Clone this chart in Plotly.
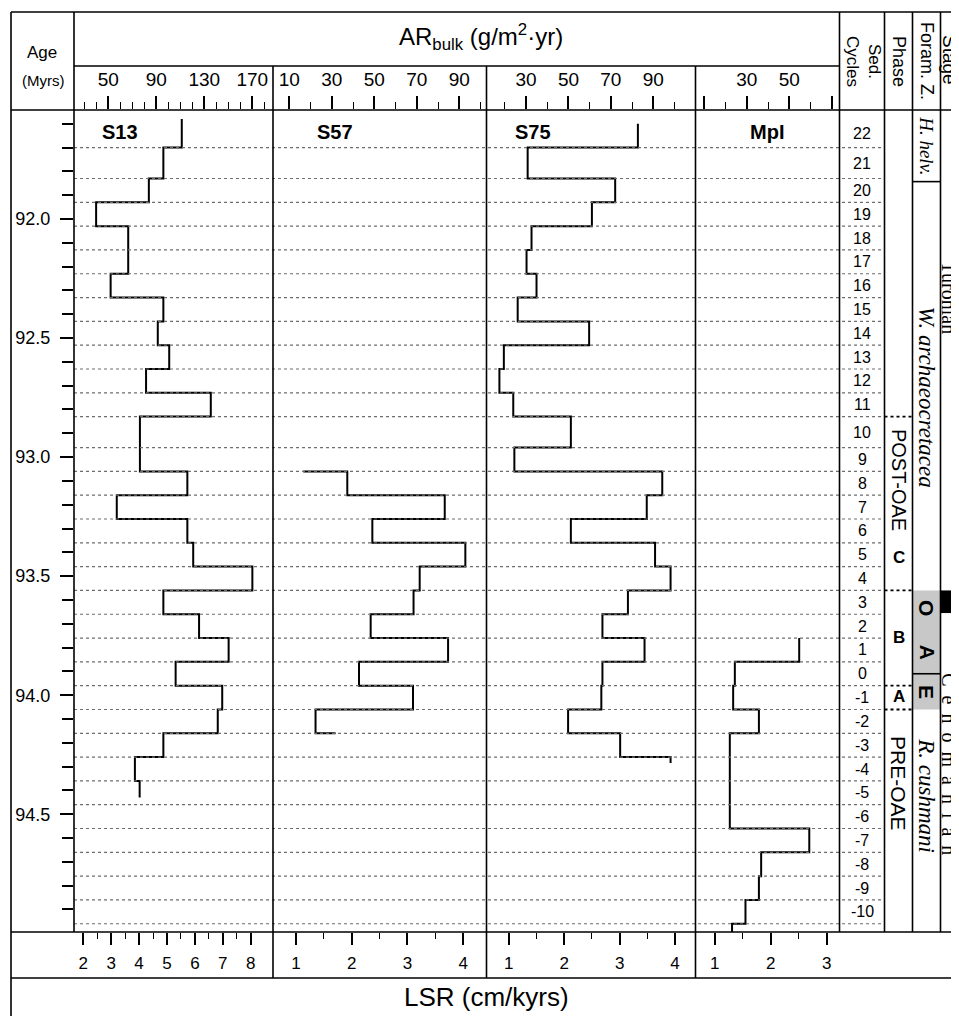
import plotly.graph_objects as go

# page is 959x1016; the html body adds an 8px margin, so the figure is 951x1008
OFF = 8
FW, FH = 959 - OFF, 1016 - OFF

# ---------------- data ----------------
cycle_labels = ["22", "21", "20", "19", "18", "17", "16", "15", "14", "13", "12", "11",
                "10", "9", "8", "7", "6", "5", "4", "3", "2", "1", "0", "-1", "-2", "-3",
                "-4", "-5", "-6", "-7", "-8", "-9", "-10", ""]
# cycle boundaries (age, Myrs): top of cycle 22 ... base of lowest cell
cycle_bounds = [91.58, 91.70, 91.83, 91.93, 92.03, 92.13, 92.23, 92.33, 92.43, 92.53,
                92.63, 92.73, 92.83, 92.96, 93.06, 93.16, 93.26, 93.36, 93.46, 93.56,
                93.66, 93.76, 93.86, 93.96, 94.06, 94.16, 94.26, 94.36, 94.46, 94.56,
                94.66, 94.76, 94.86, 94.96, 95.06]

# LSR (cm/kyrs) per cycle (None = no data)
s13_lsr = [5.53, 4.87, 4.35, 2.46, 3.61, 3.61, 2.98, 4.87, 4.67, 5.08, 4.25, 6.57,
           4.03, 4.03, 5.73, 3.20, 5.73, 5.94, 8.06, 4.87, 6.15, 7.21, 5.31, 6.98,
           6.82, 4.87, 3.85, 4.02, None, None, None, None, None, None]
s57_lsr = [None] * 13 + [1.13, 1.92, 3.67, 2.37, 4.04, 3.22, 3.11, 2.34, 3.73, 2.13,
                         3.10, 1.35, 1.71] + [None] * 8
s75_lsr = [3.33, 1.34, 2.92, 2.50, 1.41, 1.32, 1.50, 1.16, 2.45, 0.91, 0.83, 1.08,
           2.12, 1.10, 3.77, 3.49, 2.12, 3.64, 3.92, 3.15, 2.69, 3.45, 2.69, 2.67,
           2.07, 3.01, 3.92] + [None] * 7
mpi_lsr = [None] * 21 + [2.51, 1.36, 1.33, 1.79, 1.27, 1.27, 1.27, 1.27, 2.69, 1.83,
                         1.79, 1.55, 1.31]

# record start / end ages
s13_span = (91.58, 94.43)
s57_span = (93.06, 94.16)
s75_span = (91.60, 94.285)
mpi_span = (93.76, 95.06)

panel_names = ["S13", "S57", "S75", "MpI"]

# axis tick values
age_ticks = [92.0, 92.5, 93.0, 93.5, 94.0, 94.5]
age_minor = [round(91.6 + 0.1 * i, 1) for i in range(34)]
lsr_ticks = [[2, 3, 4, 5, 6, 7, 8], [1, 2, 3, 4], [1, 2, 3, 4], [1, 2, 3]]
lsr_minor = [[2.5, 3.5, 4.5, 5.5, 6.5, 7.5], [1.5, 2.5, 3.5], [1.5, 2.5, 3.5], [1.5, 2.5]]
ar_ticks = [[50, 90, 130, 170], [10, 30, 50, 70, 90], [30, 50, 70, 90], [30, 50]]
ar_unlabelled = [[], [], [], [10, 70]]
ar_minor = [[30, 40, 60, 70, 80, 100, 110, 120, 140, 150, 160, 180],
            [20, 40, 60, 80, 100], [20, 40, 60, 80, 100], [20, 40, 60]]

# ---------------- layout geometry ----------------
def px(x):
    return (x - OFF) / FW


def py(y):
    return 1 - (y - OFF) / FH


panel_px = [(74, 273), (273, 486.5), (486.5, 695.5), (695.5, 839.5)]
lsr_ranges = [[1.667, 8.8], [0.586, 4.42], [0.597, 4.37], [0.657, 3.23]]
ar_ranges = [[21.4, 187.25], [2.33, 102.8], [11.37, 109.9], [5.96, 73.57]]
title_px = [120, 335, 533, 767]
y_range = [94.9946, 91.5422]
plot_top, plot_bot = 110, 932

FONT = "Liberation Sans, Arial, sans-serif"
SERIF = "Liberation Serif, Times New Roman, serif"


def step_path(values, bounds, span):
    xs, ys = [], []
    start, end = span
    for i, v in enumerate(values):
        if v is None:
            continue
        t = max(bounds[i], start)
        b = min(bounds[i + 1], end)
        if t > b:
            continue
        xs += [v, v]
        ys += [t, b]
    return xs, ys


fig = go.Figure()

series = [(s13_lsr, s13_span), (s57_lsr, s57_span), (s75_lsr, s75_span), (mpi_lsr, mpi_span)]
for k, (vals, span) in enumerate(series):
    xs, ys = step_path(vals, cycle_bounds, span)
    xa = "x" if k == 0 else "x%d" % (2 * k + 1)
    fig.add_trace(go.Scatter(x=xs, y=ys, mode="lines", xaxis=xa, yaxis="y",
                             line=dict(color="black", width=2), hoverinfo="skip"))
    # empty trace so that the top (AR) axis is drawn
    fig.add_trace(go.Scatter(x=[None], y=[None], mode="lines", xaxis="x%d" % (2 * k + 2),
                             yaxis="y", hoverinfo="skip"))
fig.add_trace(go.Scatter(x=[None], y=[None], mode="lines", xaxis="x9", yaxis="y",
                         hoverinfo="skip"))

layout = dict(width=FW, height=FH, margin=dict(l=0, r=0, t=0, b=0),
              paper_bgcolor="white", plot_bgcolor="rgba(0,0,0,0)", showlegend=False,
              font=dict(family=FONT, color="black"))

ydom = [py(plot_bot), py(plot_top)]
layout["yaxis"] = dict(domain=ydom, range=y_range, anchor="x", side="left",
                       showgrid=False, zeroline=False, showline=False,
                       tickmode="array", tickvals=age_ticks,
                       ticktext=["%.1f" % v for v in age_ticks],
                       ticks="outside", ticklen=13, tickwidth=1.5, tickcolor="black",
                       tickfont=dict(size=18, family=FONT, color="black"),
                       ticklabelstandoff=6,
                       minor=dict(tickmode="array", tickvals=age_minor, ticks="outside",
                                  ticklen=11, tickwidth=1.5, tickcolor="black", showgrid=False))

for k in range(4):
    x0, x1 = panel_px[k]
    dom = [px(x0), px(x1)]
    bottom_name = "xaxis" if k == 0 else "xaxis%d" % (2 * k + 1)
    top_name = "xaxis%d" % (2 * k + 2)
    bottom_id = "x" if k == 0 else "x%d" % (2 * k + 1)
    layout[bottom_name] = dict(domain=dom, range=lsr_ranges[k], anchor="y", side="bottom",
                               showgrid=False, zeroline=False, showline=False,
                               tickmode="array", tickvals=lsr_ticks[k],
                               ticks="outside", ticklen=12, tickwidth=1.5, tickcolor="black",
                               tickfont=dict(size=17, family=FONT, color="black"),
                               ticklabelstandoff=4,
                               minor=dict(tickmode="array", tickvals=lsr_minor[k],
                                          ticks="outside", ticklen=6, tickwidth=1.2,
                                          tickcolor="black", showgrid=False))
    layout[top_name] = dict(domain=dom, range=ar_ranges[k], anchor="y", side="top",
                            overlaying=bottom_id,
                            showgrid=False, zeroline=False, showline=False,
                            tickmode="array", tickvals=ar_ticks[k],
                            ticks="outside", ticklen=13, tickwidth=1.5, tickcolor="black",
                            tickfont=dict(size=19, family=FONT, color="black"),
                            ticklabelstandoff=2,
                            minor=dict(tickmode="array", tickvals=ar_minor[k],
                                       ticks="outside", ticklen=7, tickwidth=1.2,
                                       tickcolor="black", showgrid=False))
# unlabelled long ticks of the MpI top axis
layout["xaxis9"] = dict(domain=[px(695.5), px(839.5)], range=ar_ranges[3], anchor="y",
                        side="top", overlaying="x7", showgrid=False, zeroline=False,
                        showline=False, tickmode="array", tickvals=ar_unlabelled[3],
                        showticklabels=False, ticks="outside", ticklen=13, tickwidth=1.5,
                        tickcolor="black")

shapes = []


def hline(y, xa, xb, width=1.6, color="black", dash=None, yref="paper"):
    d = dict(type="line", xref="paper", yref=yref, x0=px(xa), x1=px(xb),
             y0=(py(y) if yref == "paper" else y), y1=(py(y) if yref == "paper" else y),
             line=dict(color=color, width=width))
    if dash:
        d["line"]["dash"] = dash
    shapes.append(d)


def vline(x, ya, yb, width=1.6):
    shapes.append(dict(type="line", xref="paper", yref="paper", x0=px(x), x1=px(x),
                       y0=py(ya), y1=py(yb), line=dict(color="black", width=width)))


# OAE grey box & black bar (data y)
shapes.append(dict(type="rect", xref="paper", yref="y", x0=px(912.5), x1=px(940.5),
                   y0=93.56, y1=94.06, fillcolor="#c8c8c8", line=dict(width=0), layer="below"))
shapes.append(dict(type="rect", xref="paper", yref="y", x0=px(940.5), x1=px(965),
                   y0=93.56, y1=93.655, fillcolor="black", line=dict(width=0)))

# dotted cycle boundaries
for b in cycle_bounds[1:-1]:
    hline(b, 74, 884.5, width=1.2, color="#6e6e6e", dash="dot", yref="y")
# phase boundaries
for b in [92.83, 93.56, 93.96, 94.06]:
    hline(b, 884.5, 912.5, width=1.8, color="black", dash="dot", yref="y")
# foram zone boundaries
hline(91.843, 912.5, 940.5, yref="y")
hline(93.91, 912.5, 940.5, yref="y")

# frame
for y, xa, xb in [(12, 11, 965), (66, 74, 839.5), (110, 11, 965), (932, 11, 965), (978, 11, 965)]:
    hline(y, xa, xb)
vline(11, 12, 1025)
vline(74, 12, 932)
for x in [273, 486.5, 695.5]:
    vline(x, 66, 978)
for x in [839.5, 884.5, 912.5, 940.5]:
    vline(x, 12, 932)

layout["shapes"] = shapes

ann = []


def text(x, y, s, size, yref="paper", angle=0, family=FONT, **kw):
    ann.append(dict(x=px(x), y=(py(y) if yref == "paper" else y), xref="paper", yref=yref,
                    text=s, showarrow=False, textangle=angle, xanchor="center",
                    yanchor="middle", font=dict(size=size, family=family, color="black"), **kw))


text(42, 53, "Age", 17)
text(43, 81, "(Myrs)", 15)
text(481, 37, "AR<sub>bulk</sub> (g/m<sup>2</sup>·yr)", 24)
text(486, 997, "LSR (cm/kyrs)", 26)
text(864, 61, "Sed.<br>Cycles", 17, angle=90)
text(899, 61, "Phase", 18, angle=90)
text(927, 61, "Foram. Z.", 18, angle=90)
text(950, 60, "Stage", 19, angle=90)

for k, name in enumerate(panel_names):
    text(title_px[k], 132, "<b>%s</b>" % name, 20)

for i, lab in enumerate(cycle_labels):
    if lab:
        text(862, (cycle_bounds[i] + cycle_bounds[i + 1]) / 2, lab, 16, yref="y")

# phase column
text(899, 93.096, "POST-OAE", 20, yref="y", angle=90)
text(899, 93.42, "<b>C</b>", 17, yref="y")
text(899, 93.756, "<b>B</b>", 17, yref="y")
text(899, 94.005, "<b>A</b>", 17, yref="y")
text(899, 94.369, "PRE-OAE", 21, yref="y", angle=90)
# foram zones
text(927, 91.69, "<i>H. helv.</i>", 19, yref="y", angle=90, family=SERIF)
text(927, 92.745, "<i>W. archaeocretacea</i>", 23, yref="y", angle=90, family=SERIF)
text(927, 94.42, "<i>R. cushmani</i>", 23, yref="y", angle=90, family=SERIF)
text(927, 93.634, "<b>O</b>", 21, yref="y", angle=90)
text(927, 93.818, "<b>A</b>", 21, yref="y", angle=90)
text(927, 93.987, "<b>E</b>", 21, yref="y", angle=90)
# stages
text(949, 92.33, "Turonian", 20, yref="y", angle=90, family=SERIF)
text(949, 94.29, " \u2009".join("Cenomanian"), 20, yref="y", angle=90, family=SERIF)

layout["annotations"] = ann
fig.update_layout(**layout)
fig.write_html("out.html")
